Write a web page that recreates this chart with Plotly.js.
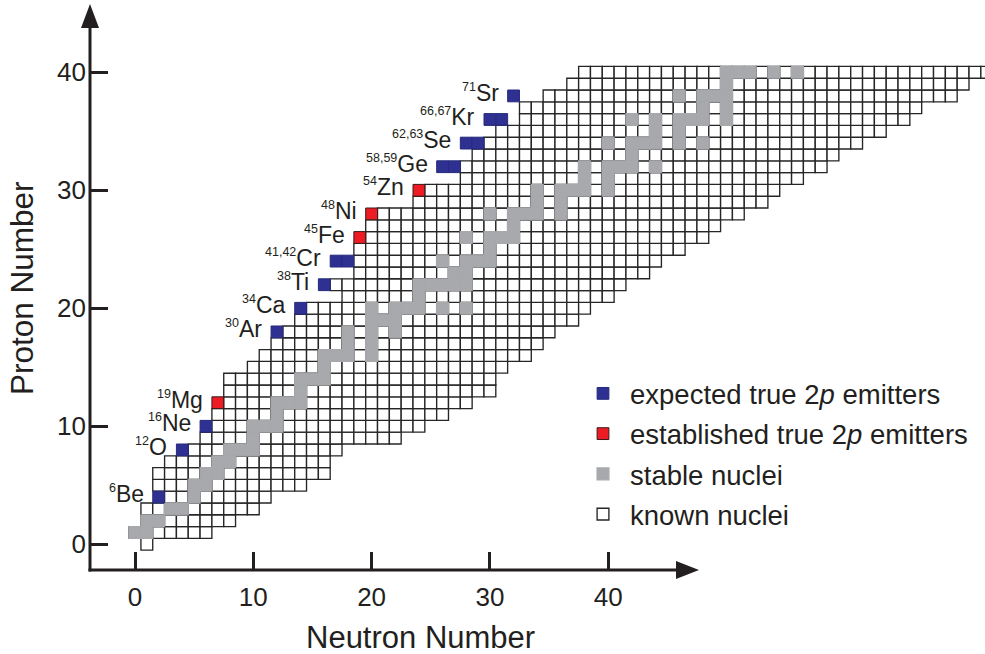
<!DOCTYPE html>
<html>
<head>
<meta charset="utf-8">
<script src="https://cdn.plot.ly/plotly-3.0.1.min.js"></script>
<style>html,body{margin:0;padding:0;background:#fff;}#chart{width:985px;height:654px;}</style>
</head>
<body>
<div id="chart"></div>
<script>
// ---- data ----
// proton number rows
const Z_ROWS = [0,1,2,3,4,5,6,7,8,9,10,11,12,13,14,15,16,17,18,19,20,21,22,23,24,25,26,27,28,29,30,31,32,33,34,35,36,37,38,39,40];
// lightest and heaviest known neutron number for every row
const N_MIN = [1,0,1,1,3,2,2,3,5,6,7,7,8,8,8,10,11,12,13,14,15,18,17,19,19,19,20,20,21,24,25,28,28,29,30,31,33,33,35,37,38];
const N_MAX = [1,6,8,10,11,14,16,16,17,22,24,26,28,30,30,31,33,34,35,37,38,40,41,43,44,46,48,49,51,53,54,56,58,59,61,63,65,66,69,70,72];
// stable nuclei
const STABLE_Z = [1,1,2,2,3,3,4,5,5,6,6,7,7,8,8,8,9,10,10,10,11,12,12,12,13,14,14,14,15,16,16,16,16,17,17,18,18,18,19,19,19,20,20,20,20,20,20,21,22,22,22,22,22,23,23,24,24,24,24,25,26,26,26,26,27,28,28,28,28,28,29,29,30,30,30,30,30,31,31,32,32,32,32,32,33,34,34,34,34,34,34,35,35,36,36,36,36,36,36,37,37,38,38,38,38,39,40,40,40,40,40];
const STABLE_N = [0,1,1,2,3,4,5,5,6,6,7,7,8,8,9,10,10,10,11,12,12,12,13,14,14,14,15,16,16,16,17,18,20,18,20,18,20,22,20,21,22,20,22,23,24,26,28,24,24,25,26,27,28,27,28,26,28,29,30,30,28,30,31,32,32,30,32,33,34,36,34,36,34,36,37,38,40,38,40,38,40,41,42,44,42,40,42,43,44,46,48,44,46,42,44,46,47,48,50,48,50,46,48,49,50,50,50,51,52,54,56];
// expected true 2p emitters
const EXP_Z = [4,8,10,18,20,22,24,24,32,32,34,34,36,36,38];
const EXP_N = [2,4,6,12,14,16,17,18,26,27,28,29,30,31,32];
// established true 2p emitters
const EST_Z = [12,26,28,30];
const EST_N = [7,19,20,24];
// labels
const LABEL_Z = [4,8,10,12,18,20,22,24,26,28,30,32,34,36,38];
const LABEL_MASS = ["6","12","16","19","30","34","38","41,42","45","48","54","58,59","62,63","66,67","71"];
const LABEL_EL = ["Be","O","Ne","Mg","Ar","Ca","Ti","Cr","Fe","Ni","Zn","Ge","Se","Kr","Sr"];
const X_TICKS = [0,10,20,30,40];
const Y_TICKS = [0,10,20,30,40];

// ---- geometry (pixels) ----
const W = 985, H = 654;
const ML = 90, MR = 0, MT = 5, MB = 84;
const CX = 11.83, CY = 11.8;          // pixels per unit
const X0 = 135, Y0 = 544.3;           // pixel of N=0 / Z=0
const PW = W - ML - MR, PH = H - MT - MB;
const xRange = [(ML - X0) / CX, (W - MR - X0) / CX];
const yRange = [(Y0 - (H - MB)) / CY, (Y0 - MT) / CY];
const px = v => (v - ML) / PW;
const py = v => ((H - MB) - v) / PH;

// known nuclei cells
const knownN = [], knownZ = [];
Z_ROWS.forEach((z, i) => {
  for (let n = N_MIN[i]; n <= N_MAX[i]; n++) { knownN.push(n); knownZ.push(z); }
});

const FONT = 'Liberation Sans, Arial, sans-serif';
const INK = '#231f20';
const CELL = 11.8;

const traces = [
  {type:'scatter', mode:'markers', name:'known nuclei', legendgroup:'k', legendrank:4, x:knownN, y:knownZ,
   marker:{symbol:'square', size:CELL, color:'#ffffff', line:{color:'#262626', width:1.35}}},
  {type:'scatter', mode:'markers', name:'stable nuclei', legendgroup:'s', legendrank:3, x:STABLE_N, y:STABLE_Z,
   marker:{symbol:'square', size:CELL, color:'#a7a9ac', line:{color:'#a7a9ac', width:1.3}}},
  {type:'scatter', mode:'markers', name:'established true 2<i>p</i> emitters', legendgroup:'r', legendrank:2, x:EST_N, y:EST_Z,
   marker:{symbol:'square', size:CELL, color:'#ed1c24', line:{color:'#3a1a1a', width:1}}},
  {type:'scatter', mode:'markers', name:'expected true 2<i>p</i> emitters', legendgroup:'b', legendrank:1, x:EXP_N, y:EXP_Z,
   marker:{symbol:'square', size:CELL, color:'#2e3192', line:{color:'#262a7a', width:1}}}
];

const annotations = [];
LABEL_Z.forEach((z, i) => {
  let nLeft = Infinity;
  EXP_Z.forEach((ez, k) => { if (ez === z) nLeft = Math.min(nLeft, EXP_N[k]); });
  EST_Z.forEach((ez, k) => { if (ez === z) nLeft = Math.min(nLeft, EST_N[k]); });
  annotations.push({
    x: nLeft - 0.5, y: z, xref:'x', yref:'y', xanchor:'right', yanchor:'middle',
    xshift:-7, yshift:3, showarrow:false,
    text:'<sup><span style="font-size:12.5px">' + LABEL_MASS[i] + '</span></sup>' + LABEL_EL[i],
    font:{family:FONT, size:23, color:INK}
  });
});
annotations.push({x:px(420), y:py(637), xref:'paper', yref:'paper', showarrow:false,
  text:'Neutron Number', font:{family:FONT, size:31, color:INK}, xanchor:'center', yanchor:'middle'});
annotations.push({x:px(22), y:py(288), xref:'paper', yref:'paper', showarrow:false, textangle:-90,
  text:'Proton Number', font:{family:FONT, size:31.5, color:INK}, xanchor:'center', yanchor:'middle'});

const shapes = [
  {type:'line', xref:'paper', yref:'paper', x0:px(90), x1:px(90), y0:py(571.5), y1:py(22), line:{color:INK, width:3}},
  {type:'path', xref:'paper', yref:'paper', path:`M ${px(90)} ${py(4)} L ${px(99)} ${py(28)} L ${px(81)} ${py(28)} Z`, fillcolor:INK, line:{width:0}},
  {type:'line', xref:'paper', yref:'paper', x0:px(88.5), x1:px(680), y0:py(570), y1:py(570), line:{color:INK, width:3}},
  {type:'path', xref:'paper', yref:'paper', path:`M ${px(699)} ${py(570)} L ${px(676)} ${py(561)} L ${px(676)} ${py(579)} Z`, fillcolor:INK, line:{width:0}}
];

const layout = {
  width:W, height:H, margin:{l:ML, r:MR, t:MT, b:MB, pad:0},
  paper_bgcolor:'#ffffff', plot_bgcolor:'rgba(0,0,0,0)',
  font:{family:FONT, color:INK},
  showlegend:true,
  legend:{x:px(576), y:py(369), xanchor:'left', yanchor:'top', traceorder:'grouped',
          itemwidth:44, tracegroupgap:1.5,
          font:{family:FONT, size:27.5, color:INK}, bgcolor:'rgba(0,0,0,0)', borderwidth:0},
  xaxis:{range:xRange, showgrid:false, zeroline:false, showline:false,
         tickmode:'array', tickvals:X_TICKS, ticktext:X_TICKS.map(String),
         ticks:'inside', ticklen:18, tickwidth:3, tickcolor:INK, ticklabelstandoff:9,
         tickfont:{family:FONT, size:26, color:INK}, fixedrange:true},
  yaxis:{range:yRange, showgrid:false, zeroline:false, showline:false,
         tickmode:'array', tickvals:Y_TICKS, ticktext:Y_TICKS.map(String),
         ticks:'inside', ticklen:18, tickwidth:3, tickcolor:INK, ticklabelstandoff:3,
         tickfont:{family:FONT, size:26, color:INK}, fixedrange:true},
  annotations:annotations, shapes:shapes, hovermode:false
};

Plotly.newPlot('chart', traces, layout, {staticPlot:true, displayModeBar:false});
</script>
</body>
</html>
